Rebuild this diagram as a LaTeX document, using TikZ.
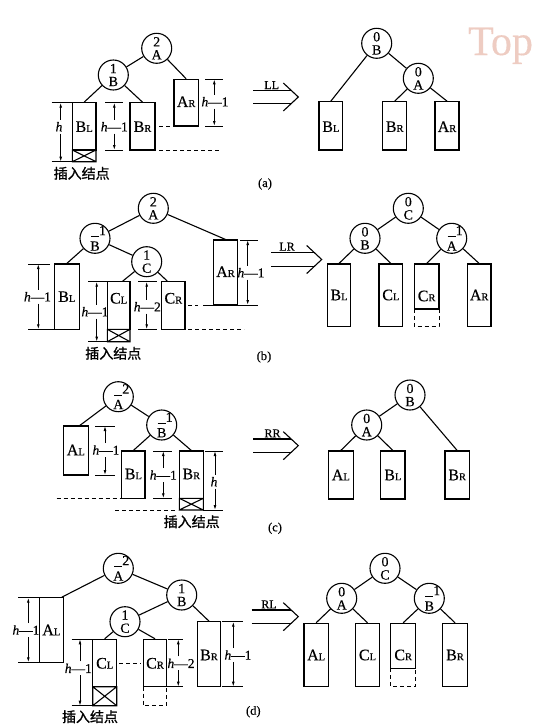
\documentclass[tikz,border=0pt]{standalone}
\usepackage{fontspec}
\setmainfont{Liberation Serif}[FakeBold=0.35]
\newfontfamily\cjk{Noto Sans CJK SC}[FakeBold=1.2]
\usetikzlibrary{arrows.meta}
\definecolor{wmc}{RGB}{238,204,194}
\newcommand\mycl[2]{\shortstack{#1\\[0.8pt]#2}}
\newcommand\myneg[1]{\rule[0.5pt]{8pt}{0.9pt}\rlap{\raisebox{2.5pt}{#1}}}
\newcommand\mysb[2]{#1{\fontsize{10.5}{10.5}\selectfont #2}}
\newcommand\myhh[1]{\textit{h}—#1}
\tikzset{
 cir/.style={circle, draw, line width=1.1pt, minimum size=30pt, inner sep=0pt, font=\fontsize{14}{14}\selectfont},
 tbox/.style={draw, rectangle, line width=1.1pt, inner sep=0pt},
 blab/.style={inner sep=0pt, font=\fontsize{16}{16}\selectfont},
 edge/.style={line width=1.1pt},
 tick/.style={line width=0.9pt},
 dimarr/.style={line width=0.8pt, -{Latex[length=5pt,width=2.8pt]}},
 dimlab/.style={inner sep=0.5pt, font=\fontsize{13.5}{13.5}\selectfont},
 dsh/.style={line width=0.9pt, dash pattern=on 4pt off 3pt},
 cjklab/.style={inner sep=0pt, font=\cjk\fontsize{14}{14}\selectfont},
 arlab/.style={inner sep=0pt, anchor=south, font=\fontsize{12}{12}\selectfont},
 partlab/.style={inner sep=0pt, font=\fontsize{12.5}{12.5}\selectfont}
}
% box: name, x1, x2, y1, y2, label y, label
\newcommand\mytb[7]{\node[tbox, minimum width={#3-#2}, minimum height={#5-#4}] (#1) at ({(#2+#3)/2},{(#4+#5)/2}) {};
 \node[blab] (#1-l) at ({(#2+#3)/2},#6) {#7};}
% cross box
\newcommand\myxb[4]{\draw[edge] (#1,#3) rectangle (#2,#4) (#1,#3) -- (#2,#4) (#1,#4) -- (#2,#3);}
% dashed extension
\newcommand\mydb[4]{\draw[dsh] (#1,#3) -- (#1,#4) -- (#2,#4) -- (#2,#3);}
% dimension: name, x, ytop, ybot, label y, label x, label
\newcommand\mydim[7]{\node[dimlab] (#1) at (#6,#5) {#7};
 \draw[dimarr] (#2,{#5-7}) -- (#2,#3);
 \draw[dimarr] (#2,{#5+7}) -- (#2,#4);}
% big arrow: name, x0, tipx, ytop, ybot, labelx, label
\newcommand\myar[7]{\draw[edge] ({#3-15},{(#4+#5)/2-14}) -- (#3,{(#4+#5)/2}) -- ({#3-15},{(#4+#5)/2+14});
 \draw[edge] (#2,#4) -- ({#3-7},#4);
 \draw[edge] (#2,#5) -- ({#3-7},#5);
 \node[arlab] (#1) at (#6,{#4-1.5}) {#7};}
\begin{document}
\begin{tikzpicture}[x=1pt,y=-1pt]
\fill[white] (0,0) rectangle (535,728);
\useasboundingbox (0,0) rectangle (535,728);
\node[anchor=base west, inner sep=0pt, text=wmc, font=\fontsize{42}{42}\selectfont] (wm) at (468,55) {Top};

% ---------------- (a) left
\node[cir] (aA) at (156.7,48.3) {\mycl{2}{A}};
\node[cir] (aB) at (113.3,75) {\mycl{1}{B}};
\mytb{aBL}{72.3}{96}{102.7}{150}{126.7}{\mysb{B}{L}}
\myxb{72.3}{96}{150}{161.7}
\mytb{aBR}{130}{155}{102.7}{150}{126.7}{\mysb{B}{R}}
\mytb{aAR}{174}{198.3}{79.3}{126}{101.7}{\mysb{A}{R}}
\draw[edge] (aA) -- (aB);
\draw[edge] (aA) -- (aAR.north);
\draw[edge] (aB) -- (aBL.north);
\draw[edge] (aB) -- (aBR.north);
\mydim{ad1}{60.7}{102.7}{161.7}{126.7}{59}{\textit{h}}
\mydim{ad2}{114.3}{102.7}{150}{126.7}{114.3}{\myhh{1}}
\mydim{ad3}{214.3}{79.3}{126}{101.7}{215}{\myhh{1}}
\draw[tick] (51.7,102.7) -- (72.3,102.7) (51.7,161.7) -- (72.3,161.7);
\draw[tick] (105,102.7) -- (123,102.7) (105,150) -- (123,150);
\draw[tick] (205,79.3) -- (223.3,79.3) (205,126) -- (223.3,126);
\draw[dsh] (159,126) -- (172,126);
\draw[dsh] (159,150) -- (221,150);
\node[cjklab] (ains) at (81.7,173.3) {插入结点};

% ---------------- (a) right
\myar{all}{253}{298.3}{90.7}{103.3}{271.7}{LL}
\node[cir] (rB) at (376.7,43.3) {\mycl{0}{B}};
\node[cir] (rA) at (418.3,78.3) {\mycl{0}{A}};
\mytb{rBL}{319}{342.7}{101.7}{150}{126.7}{\mysb{B}{L}}
\mytb{rBR}{382.7}{406.7}{101.7}{150}{126.7}{\mysb{B}{R}}
\mytb{rAR}{435}{459}{101.7}{150}{126.7}{\mysb{A}{R}}
\draw[edge] (rB) -- (rA);
\draw[edge] (rB) -- (rBL.north);
\draw[edge] (rA) -- (rBR.north);
\draw[edge] (rA) -- (rAR.north);
\node[partlab] (pa) at (265,184) {(a)};

% ---------------- (b) left
\node[cir] (bA) at (153.3,208.3) {\mycl{2}{A}};
\node[cir] (bB) at (95,238.3) {\mycl{\myneg{1}}{B}};
\node[cir] (bC) at (146.7,261.7) {\mycl{1}{C}};
\mytb{bBL}{54.3}{79.3}{264}{329.3}{296.7}{\mysb{B}{L}}
\mytb{bCL}{107.3}{130}{281.7}{329.3}{298.3}{\mysb{C}{L}}
\myxb{107.3}{130}{329.3}{341.7}
\mytb{bCR}{161.7}{185}{281.7}{329.3}{298.3}{\mysb{C}{R}}
\mytb{bAR}{213.3}{237.7}{240}{305}{271.7}{\mysb{A}{R}}
\draw[edge] (bA) -- (bB);
\draw[edge] (bA) -- (bAR.north);
\draw[edge] (bB) -- (bBL.north);
\draw[edge] (bB) -- (bC);
\draw[edge] (bC) -- ([xshift=4pt]bCL.north);
\draw[edge] (bC) -- ([xshift=-6pt]bCR.north);
\mydim{bd1}{38.3}{264}{329.3}{296.7}{37.5}{\myhh{1}}
\mydim{bd2}{96.7}{281.7}{341.7}{311.7}{95}{\myhh{1}}
\mydim{bd3}{146.7}{281.7}{329.3}{306.7}{147.3}{\myhh{2}}
\mydim{bd4}{247.7}{240}{305}{272.7}{251}{\myhh{1}}
\draw[tick] (28.3,264) -- (50,264) (28.3,329.3) -- (54.3,329.3);
\draw[tick] (88.3,281.7) -- (106.7,281.7) (88.3,341.7) -- (107.3,341.7);
\draw[tick] (138.3,281.7) -- (156.7,281.7) (138.3,329.3) -- (156.7,329.3);
\draw[tick] (240,240) -- (258.3,240) (203.3,305) -- (258.3,305);
\draw[dsh] (188,305) -- (198,305);
\draw[dsh] (188,329.3) -- (244,329.3);
\node[cjklab] (bins) at (113.3,353.3) {插入结点};

% ---------------- (b) right
\myar{alr}{271}{321.7}{252.3}{266.7}{287}{LR}
\node[cir] (sC) at (408.3,208.3) {\mycl{0}{C}};
\node[cir] (sB) at (365,238.3) {\mycl{0}{B}};
\node[cir] (sA) at (451.7,238.3) {\mycl{\myneg{1}}{A}};
\mytb{sBL}{327.3}{350.7}{264}{326.7}{295}{\mysb{B}{L}}
\mytb{sCL}{379}{402.7}{264}{326.7}{295}{\mysb{C}{L}}
\mytb{sCR}{414.3}{439}{264}{309}{296}{\mysb{C}{R}}
\mydb{414.3}{439}{309}{326.7}
\mytb{sAR}{467.3}{491}{264}{326.7}{295}{\mysb{A}{R}}
\draw[edge] (sC) -- (sB);
\draw[edge] (sC) -- (sA);
\draw[edge] (sB) -- (sBL.north);
\draw[edge] (sB) -- (sCL.north);
\draw[edge] (sA) -- (sCR.north);
\draw[edge] (sA) -- (sAR.north);
\node[partlab] (pb) at (264,357) {(b)};

% ---------------- (c) left
\node[cir] (cA) at (118.3,396.7) {\mycl{\myneg{2}}{A}};
\node[cir] (cB) at (161.7,425) {\mycl{\myneg{1}}{B}};
\mytb{cAL}{63.3}{88.3}{426}{475}{450}{\mysb{A}{L}}
\mytb{cBL}{121.7}{145}{451}{498.3}{474}{\mysb{B}{L}}
\mytb{cBR}{179.3}{203.3}{451}{498.3}{474}{\mysb{B}{R}}
\myxb{179.3}{203.3}{498.3}{510}
\draw[edge] (cA) -- ([xshift=4pt]cAL.north);
\draw[edge] (cA) -- (cB);
\draw[edge] (cB) -- (cBL.north);
\draw[edge] (cB) -- (cBR.north);
\mydim{cd1}{105}{426}{475}{450}{106}{\myhh{1}}
\mydim{cd2}{163.3}{451}{498.3}{475}{163.3}{\myhh{1}}
\mydim{cd3}{215}{451}{510}{481.7}{214}{\textit{h}}
\draw[tick] (95,426) -- (115,426) (95,475) -- (115,475);
\draw[tick] (153.3,451) -- (171.7,451) (153.3,498.3) -- (171.7,498.3);
\draw[tick] (205,451) -- (223.3,451) (203.3,510) -- (223.3,510);
\draw[dsh] (56.7,498.3) -- (120,498.3);
\draw[dsh] (115,510) -- (178,510);
\node[cjklab] (cins) at (191.7,521.7) {插入结点};

% ---------------- (c) right
\myar{arr}{253.3}{298.3}{439}{452.3}{272.5}{RR}
\node[cir] (tB) at (410,395) {\mycl{0}{B}};
\node[cir] (tA) at (366.7,425) {\mycl{0}{A}};
\mytb{tAL}{328.3}{353.3}{451}{499}{475}{\mysb{A}{L}}
\mytb{tBL}{380.7}{405}{451}{499}{475}{\mysb{B}{L}}
\mytb{tBR}{445}{469.3}{451}{499}{475}{\mysb{B}{R}}
\draw[edge] (tB) -- (tA);
\draw[edge] (tB) -- (tBR.north);
\draw[edge] (tA) -- (tAL.north);
\draw[edge] (tA) -- (tBL.north);
\node[partlab] (pc) at (275,528.3) {(c)};

% ---------------- (d) left
\node[cir] (dA) at (118.3,568.3) {\mycl{\myneg{2}}{A}};
\node[cir] (dB) at (181.7,595) {\mycl{1}{B}};
\node[cir] (dC) at (125,621.7) {\mycl{1}{C}};
\mytb{dAL}{39.3}{63.3}{597.7}{662.3}{630}{\mysb{A}{L}}
\mytb{dCL}{92.7}{116.7}{639.3}{686.7}{663.3}{\mysb{C}{L}}
\myxb{92.7}{116.7}{686.7}{705.7}
\mytb{dCR}{143.3}{166.7}{639.3}{686.7}{663.3}{\mysb{C}{R}}
\mydb{143.3}{166.7}{686.7}{705.7}
\mytb{dBR}{197.3}{220.7}{621.7}{686.7}{655}{\mysb{B}{R}}
\draw[edge] (dA) -- ([xshift=-2pt]dAL.north east);
\draw[edge] (dA) -- (dB);
\draw[edge] (dB) -- (dC);
\draw[edge] (dB) -- (dBR.north);
\draw[edge] (dC) -- (dCL.north);
\draw[edge] (dC) -- (dCR.north);
\mydim{dd1}{28.3}{597.7}{662.3}{630}{26}{\myhh{1}}
\mydim{dd2}{80}{639.3}{705.7}{668.3}{78.3}{\myhh{1}}
\mydim{dd3}{178.3}{639.3}{686.7}{663.3}{181}{\myhh{2}}
\mydim{dd4}{233.3}{621.7}{686.7}{655}{238}{\myhh{1}}
\draw[tick] (18.3,597.7) -- (39.3,597.7) (18.3,662.3) -- (39.3,662.3);
\draw[tick] (71.7,639.3) -- (92.7,639.3) (71.7,705.7) -- (92.7,705.7);
\draw[tick] (168.3,639.3) -- (182.7,639.3) (166.7,686.7) -- (182.7,686.7);
\draw[tick] (221.7,621.7) -- (243.3,621.7) (221.7,686.7) -- (243.3,686.7);
\draw[dsh] (119,663.3) -- (141,663.3);
\node[cjklab] (dins) at (90,716.7) {插入结点};
\node[partlab] (pd) at (253.3,711.7) {(d)};

% ---------------- (d) right
\myar{arl}{251.7}{298.3}{610}{623.3}{269}{RL}
\node[cir] (eC) at (385,568.3) {\mycl{0}{C}};
\node[cir] (eA) at (341.7,598.3) {\mycl{0}{A}};
\node[cir] (eB) at (429.3,598.3) {\mycl{\myneg{1}}{B}};
\mytb{eAL}{304}{328.3}{623.3}{686.7}{655}{\mysb{A}{L}}
\mytb{eCL}{355.7}{379.3}{623.3}{686.7}{655}{\mysb{C}{L}}
\mytb{eCR}{390.7}{415.7}{623.3}{668.3}{655}{\mysb{C}{R}}
\mydb{390.7}{415.7}{668.3}{686.7}
\mytb{eBR}{442.7}{467.3}{623.3}{686.7}{655}{\mysb{B}{R}}
\draw[edge] (eC) -- (eA);
\draw[edge] (eC) -- (eB);
\draw[edge] (eA) -- (eAL.north);
\draw[edge] (eA) -- (eCL.north);
\draw[edge] (eB) -- (eCR.north);
\draw[edge] (eB) -- (eBR.north);
\end{tikzpicture}
\end{document}
